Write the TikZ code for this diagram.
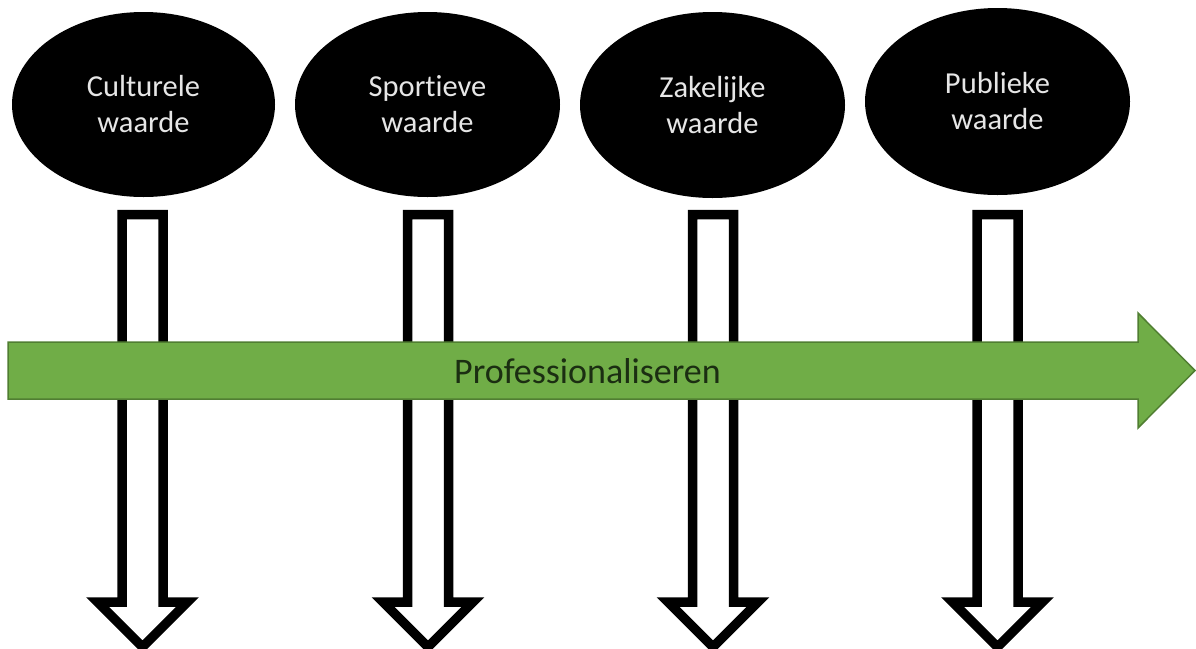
\documentclass[tikz,border=0pt]{standalone}
\usepackage{fontspec}
\setmainfont{Carlito}[RawFeature={-liga}]
\usetikzlibrary{shapes.geometric}
\definecolor{valtext}{HTML}{E6E6E6}
\definecolor{agreen}{HTML}{70AD47}
\definecolor{agreenborder}{HTML}{507E32}
\definecolor{proftext}{HTML}{1B2E12}
\tikzset{
  valnode/.style={ellipse, fill=black, draw=none, text=valtext, align=center,
    inner sep=0pt, font=\fontsize{30.5}{36}\selectfont},
  downarrow/.style={draw=black, line width=9.5pt, fill=white, miter limit=10, line join=miter},
  greenarrow/.style={draw=agreenborder, line width=1.5pt, fill=agreen, line join=miter},
  proflabel/.style={text=proftext, font=\fontsize{36}{43}\selectfont, inner sep=0pt}
}
\begin{document}
\begin{tikzpicture}[x=1pt,y=-1pt]
\useasboundingbox[fill=white] (0,0) rectangle (1196,648);
% value ellipses
\node[valnode, minimum width=263pt, minimum height=185pt] (cult) at (143.5,104.5) {Culturele\\waarde};
\node[valnode, minimum width=265pt, minimum height=185pt] (sport) at (427.5,104.5) {Sportieve\\waarde};
\node[valnode, minimum width=265pt, minimum height=186pt] (zak) at (712.5,105) {Zakelijke\\waarde};
\node[valnode, minimum width=265pt, minimum height=187pt] (publ) at (997.5,101.5) {Publieke\\waarde};
% hollow down arrows
\foreach \cx in {142.5,428,713,997.5}{
  \draw[downarrow] (\cx-20.5,214.5) -- (\cx+20.5,214.5) -- (\cx+20.5,602) -- (\cx+45,602)
     -- (\cx,647) -- (\cx-45,602) -- (\cx-20.5,602) -- cycle;
}
% green arrow
\draw[greenarrow] (8,342) -- (1138,342) -- (1138,313) -- (1195,370.5) -- (1138,428)
   -- (1138,399) -- (8,399) -- cycle;
\node[proflabel, anchor=base] (prof) at (587.5,383) {Professionaliseren};
\end{tikzpicture}
\end{document}
